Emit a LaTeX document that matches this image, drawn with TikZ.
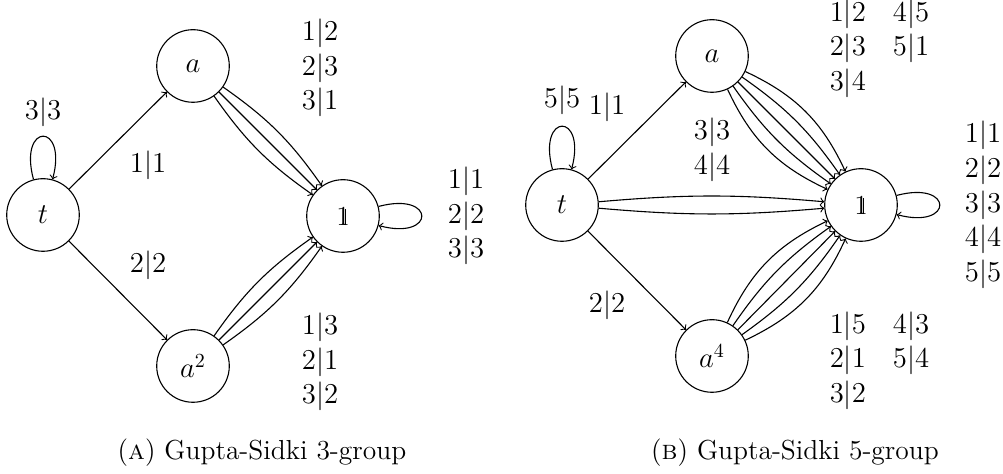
\documentclass[tikz,border=0pt]{standalone}
\newcommand\onebb{\mbox{\ooalign{1\cr\hidewidth\vrule height .6em depth 0pt width .04em\kern.13em\cr}}}
\begin{document}
\begin{tikzpicture}[x=0.5pt,y=0.5pt,line width=0.55pt,>=to,
  st/.style={circle,draw,minimum size=36.3pt,inner sep=0pt},
  lab/.style={align=center,inner sep=0pt},
  every node/.style={font=\fontsize{13.75}{17.4}\selectfont}]
\useasboundingbox (0,0) rectangle (1003,474);
% ---- left: Gupta-Sidki 3-group
\node[st] (t) at (43,259) {$t$};
\node[st] (a) at (193,408) {$a$};
\node[st] (a2) at (193,108) {$a^2$};
\node[st] (e) at (343,258) {\onebb};
\draw[->] (t) -- (a);
\draw[->] (t) -- (a2);
\draw[->] (a) to[bend left=10] (e);
\draw[->] (a) -- (e);
\draw[->] (a) to[bend right=10] (e);
\draw[->] (a2) to[bend left=10] (e);
\draw[->] (a2) -- (e);
\draw[->] (a2) to[bend right=10] (e);
\draw[->] (t) to[loop above] (t);
\draw[->] (e) to[loop right] (e);
\node[lab] (l3) at (43,362) {$3|3$};
\node[lab] (l1) at (148,309) {$1|1$};
\node[lab] (l2) at (148,209) {$2|2$};
\node[lab] (la) at (320,406) {$1|2$\\$2|3$\\$3|1$};
\node[lab] (lb) at (320,112) {$1|3$\\$2|1$\\$3|2$};
\node[lab] (le) at (466,258) {$1|1$\\$2|2$\\$3|3$};
\node[anchor=base] (capA) at (262,14.5) {(\textsc{a}) Gupta-Sidki 3-group};
% ---- right: Gupta-Sidki 5-group
\node[st] (T) at (562,269) {$t$};
\node[st] (A) at (712,418) {$a$};
\node[st] (A4) at (712,118) {$a^4$};
\node[st] (E) at (861,269) {\onebb};
\draw[->] (T) -- (A);
\draw[->] (T) -- (A4);
\draw[->] (T) to[bend left=5] (E);
\draw[->] (T) to[bend right=5] (E);
\foreach \b in {-20,-10,0,10,20}{
  \draw[->] (A) to[bend left=\b] (E);
  \draw[->] (A4) to[bend left=\b] (E);
}
\draw[->] (T) to[loop above] (T);
\draw[->] (E) to[loop right] (E);
\node[lab] (L5) at (562,374) {$5|5$};
\node[lab] (L1) at (607,367) {$1|1$};
\node[lab] (L2) at (607,169) {$2|2$};
\node[lab] (L34) at (712,324) {$3|3$\\$4|4$};
\node[lab] (LA) at (879.5,425) {\begin{tabular}{@{}l@{\hspace{13.5pt}}l@{}}$1|2$&$4|5$\\$2|3$&$5|1$\\$3|4$&\end{tabular}};
\node[lab] (LB) at (879.5,113) {\begin{tabular}{@{}l@{\hspace{13.5pt}}l@{}}$1|5$&$4|3$\\$2|1$&$5|4$\\$3|2$&\end{tabular}};
\node[lab] (LE) at (983,269) {$1|1$\\$2|2$\\$3|3$\\$4|4$\\$5|5$};
\node[anchor=base] (capB) at (795,14.5) {(\textsc{b}) Gupta-Sidki 5-group};
\end{tikzpicture}
\end{document}
